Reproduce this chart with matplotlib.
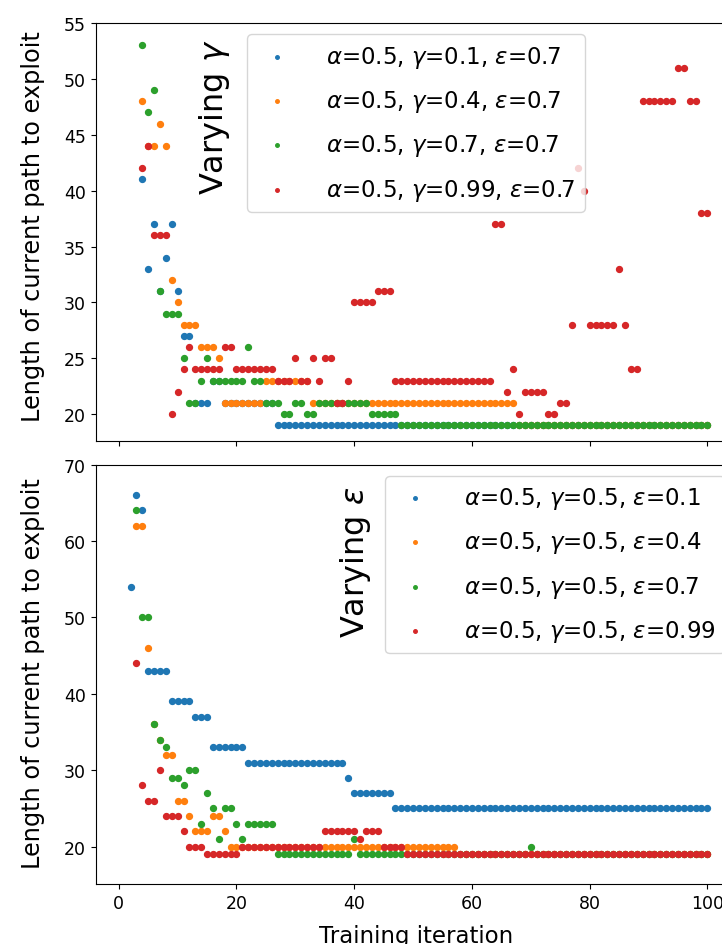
import numpy as np
import matplotlib
matplotlib.use("Agg")
import matplotlib.pyplot as plt

nan = np.nan
iterations = list(range(1, 101))

# ---- Top panel: varying gamma ----
labels_gamma = [r"$\alpha$=0.5, $\gamma$=0.1, $\varepsilon$=0.7",
                r"$\alpha$=0.5, $\gamma$=0.4, $\varepsilon$=0.7",
                r"$\alpha$=0.5, $\gamma$=0.7, $\varepsilon$=0.7",
                r"$\alpha$=0.5, $\gamma$=0.99, $\varepsilon$=0.7"]

gamma_01 = [nan, nan, nan, 41, 33, 37, 31, 34, 37, 31,
            27, 27, 21, 21, 21, 23, 23, 21, 21, 21,
            21, 21, 21, 21, 21, 21, 19, 19, 19, 19,
            19, 19, 19, 19, 19, 19, 19, 19, 19, 19,
            19, 19, 19, 19, 19, 19, 19, 19, 19, 19,
            19, 19, 19, 19, 19, 19, 19, 19, 19, 19,
            19, 19, 19, 19, 19, 19, 19, 19, 19, 19,
            19, 19, 19, 19, 19, 19, 19, 19, 19, 19,
            19, 19, 19, 19, 19, 19, 19, 19, 19, 19,
            19, 19, 19, 19, 19, 19, 19, 19, 19, 19]

gamma_04 = [nan, nan, nan, 48, 44, 44, 46, 44, 32, 30,
            28, 28, 28, 26, 26, 26, 25, 21, 21, 21,
            21, 21, 21, 21, 23, 23, 23, 23, 23, 23,
            23, 23, 21, 21, 21, 21, 21, 21, 21, 21,
            21, 21, 21, 21, 21, 21, 21, 21, 21, 21,
            21, 21, 21, 21, 21, 21, 21, 21, 21, 21,
            21, 21, 21, 21, 21, 21, 21, 19, 19, 19,
            19, 19, 19, 19, 19, 19, 19, 19, 19, 19,
            19, 19, 19, 19, 19, 19, 19, 19, 19, 19,
            19, 19, 19, 19, 19, 19, 19, 19, 19, 19]

gamma_07 = [nan, nan, nan, 53, 47, 49, 31, 29, 29, 29,
            25, 21, 21, 23, 25, 23, 23, 23, 23, 23,
            23, 26, 23, 23, 21, 21, 21, 20, 20, 21,
            21, 20, 20, 21, 21, 21, 21, 21, 21, 21,
            21, 21, 20, 20, 20, 20, 20, 19, 19, 19,
            19, 19, 19, 19, 19, 19, 19, 19, 19, 19,
            19, 19, 19, 19, 19, 19, 19, 19, 19, 19,
            19, 19, 19, 19, 19, 19, 19, 19, 19, 19,
            19, 19, 19, 19, 19, 19, 19, 19, 19, 19,
            19, 19, 19, 19, 19, 19, 19, 19, 19, 19]

gamma_099 = [nan, nan, nan, 42, 44, 36, 36, 36, 20, 22,
             24, 26, 24, 24, 24, 24, 24, 26, 26, 24,
             24, 24, 24, 24, 24, 24, 23, 23, 23, 25,
             23, 23, 25, 23, 25, 25, 21, 21, 23, 30,
             30, 30, 30, 31, 31, 31, 23, 23, 23, 23,
             23, 23, 23, 23, 23, 23, 23, 23, 23, 23,
             23, 23, 23, 37, 37, 22, 24, 20, 22, 22,
             22, 22, 20, 20, 21, 21, 28, 42, 40, 28,
             28, 28, 28, 28, 33, 28, 24, 24, 48, 48,
             48, 48, 48, 48, 51, 51, 48, 48, 38, 38]

# ---- Bottom panel: varying epsilon ----
labels_eps = [r"$\alpha$=0.5, $\gamma$=0.5, $\varepsilon$=0.1",
              r"$\alpha$=0.5, $\gamma$=0.5, $\varepsilon$=0.4",
              r"$\alpha$=0.5, $\gamma$=0.5, $\varepsilon$=0.7",
              r"$\alpha$=0.5, $\gamma$=0.5, $\varepsilon$=0.99"]

eps_01 = [nan, 54, 66, 64, 43, 43, 43, 43, 39, 39,
          39, 39, 37, 37, 37, 33, 33, 33, 33, 33,
          33, 31, 31, 31, 31, 31, 31, 31, 31, 31,
          31, 31, 31, 31, 31, 31, 31, 31, 29, 27,
          27, 27, 27, 27, 27, 27, 25, 25, 25, 25,
          25, 25, 25, 25, 25, 25, 25, 25, 25, 25,
          25, 25, 25, 25, 25, 25, 25, 25, 25, 25,
          25, 25, 25, 25, 25, 25, 25, 25, 25, 25,
          25, 25, 25, 25, 25, 25, 25, 25, 25, 25,
          25, 25, 25, 25, 25, 25, 25, 25, 25, 25]

eps_04 = [nan, nan, 62, 62, 46, 36, 34, 32, 32, 26,
          26, 24, 22, 22, 22, 24, 24, 22, 20, 20,
          20, 20, 20, 20, 20, 20, 20, 20, 20, 20,
          20, 20, 20, 20, 20, 20, 20, 20, 20, 20,
          20, 20, 20, 20, 20, 20, 20, 20, 20, 20,
          20, 20, 20, 20, 20, 20, 20, 19, 19, 19,
          19, 19, 19, 19, 19, 19, 19, 19, 19, 19,
          19, 19, 19, 19, 19, 19, 19, 19, 19, 19,
          19, 19, 19, 19, 19, 19, 19, 19, 19, 19,
          19, 19, 19, 19, 19, 19, 19, 19, 19, 19]

eps_07 = [nan, nan, 64, 50, 50, 36, 34, 33, 29, 29,
          28, 30, 30, 23, 27, 25, 21, 25, 25, 23,
          21, 23, 23, 23, 23, 23, 19, 19, 19, 19,
          19, 19, 19, 19, 19, 19, 19, 19, 19, 21,
          19, 19, 19, 19, 19, 19, 19, 19, 19, 19,
          19, 19, 19, 19, 19, 19, 19, 19, 19, 19,
          19, 19, 19, 19, 19, 19, 19, 19, 19, 20,
          19, 19, 19, 19, 19, 19, 19, 19, 19, 19,
          19, 19, 19, 19, 19, 19, 19, 19, 19, 19,
          19, 19, 19, 19, 19, 19, 19, 19, 19, 19]

eps_099 = [nan, nan, 44, 28, 26, 26, 30, 24, 24, 24,
           22, 20, 20, 20, 19, 19, 19, 19, 19, 19,
           20, 20, 20, 20, 20, 20, 20, 20, 20, 20,
           20, 20, 20, 20, 22, 22, 22, 22, 22, 22,
           21, 22, 22, 22, 20, 20, 20, 20, 19, 19,
           19, 19, 19, 19, 19, 19, 19, 19, 19, 19,
           19, 19, 19, 19, 19, 19, 19, 19, 19, 19,
           19, 19, 19, 19, 19, 19, 19, 19, 19, 19,
           19, 19, 19, 19, 19, 19, 19, 19, 19, 19,
           19, 19, 19, 19, 19, 19, 19, 19, 19, 19]

xticks = [0, 20, 40, 60, 80, 100]
top_yticks = [20, 25, 30, 35, 40, 45, 50, 55]
bottom_yticks = [20, 30, 40, 50, 60, 70]

colors = ["#1f77b4", "#ff7f0e", "#2ca02c", "#d62728"]

fig = plt.figure(figsize=(7.22, 9.45), dpi=100)
ax1 = fig.add_axes([0.1323, 0.5323, 0.8878, 0.4423])
ax2 = fig.add_axes([0.1323, 0.0635, 0.8878, 0.4439])

for series, lab, c in zip([gamma_01, gamma_04, gamma_07, gamma_099], labels_gamma, colors):
    ax1.scatter(iterations, series, s=18, color=c, label=lab)
for series, lab, c in zip([eps_01, eps_04, eps_07, eps_099], labels_eps, colors):
    ax2.scatter(iterations, series, s=18, color=c, label=lab)

for ax in (ax1, ax2):
    ax.set_xlim(-3.95, 104.95)
    ax.set_xticks(xticks)
    ax.tick_params(labelsize=12.5)
    ax.set_ylabel("Length of current path to exploit", fontsize=17.3)

ax1.yaxis.set_label_coords(-0.079, 0.515)
ax2.yaxis.set_label_coords(-0.079, 0.505)

ax1.set_ylim(17.6, 55)
ax1.set_yticks(top_yticks)
ax1.tick_params(labelbottom=False)
ax2.set_ylim(15.1, 70)
ax2.set_yticks(bottom_yticks)
ax2.set_xlabel("Training iteration", fontsize=16.5, labelpad=8.5)

leg_kw = dict(fontsize=16.5, markerscale=0.6, scatterpoints=1,
              labelspacing=0.8, handlelength=1.8, handletextpad=1.25)
ax1.legend(loc="upper center", **leg_kw)
ax2.legend(loc="upper right", **leg_kw)

ax1.text(0.186, 0.778, r"Varying $\gamma$", transform=ax1.transAxes, rotation=90,
         fontsize=23, ha="center", va="center")
ax2.text(0.405, 0.77, r"Varying $\epsilon$", transform=ax2.transAxes, rotation=90,
         fontsize=23, ha="center", va="center")

fig.savefig("out.png", dpi=100)
